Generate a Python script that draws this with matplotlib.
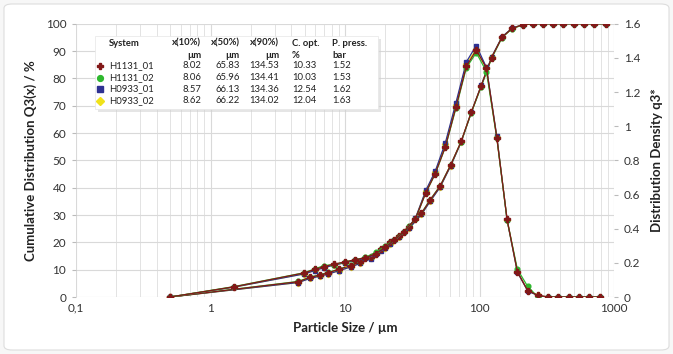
import matplotlib.pyplot as plt
from matplotlib.lines import Line2D
from matplotlib.patches import FancyBboxPatch, Rectangle
from matplotlib.ticker import FixedLocator, FuncFormatter, LogLocator, NullFormatter

plt.rcParams['font.family'] = ['Lato', 'DejaVu Sans']

# particle size classes (upper edges) for Q3, class means for q3*
size_edges = [0.5, 4.5, 5.5, 6.5, 7.5, 9.0, 11.0, 13.0, 15.5, 18.5, 21.5, 25.0, 30.0, 37.0,
              43.0, 51.0, 61.0, 73.0, 87.0, 103.0, 123.0, 147.0, 175.0, 209.0, 249.0, 297.0,
              353.0, 421.0, 501.0, 597.0, 711.0, 875.0]
size_means = [0.5, 1.5, 4.97, 5.98, 6.98, 8.22, 9.95, 11.96, 14.2, 16.93, 19.94, 23.18, 27.39,
              33.32, 39.89, 46.83, 55.78, 66.73, 79.81, 94.66, 112.6, 134.5, 160.4, 191.3,
              228.1, 271.9, 323.8, 385.5, 459.3, 547.0, 651.5, 788.8]

# cumulative distribution Q3 in %
q3cum_h1131_01 = [0, 5.6, 7.2, 8.0, 8.9, 10.1, 11.5, 12.8, 14.5, 17.6, 20.0, 22.4, 25.7, 30.6,
                  35.5, 40.6, 48.3, 56.9, 67.7, 77.3, 87.6, 95.0, 98.3, 99.6, 100, 100, 100,
                  100, 100, 100, 100, 100]
q3cum_h1131_02 = [0, 5.7, 7.3, 8.1, 9.0, 10.2, 11.6, 12.9, 14.6, 17.7, 20.1, 22.5, 25.8, 30.7,
                  35.6, 40.7, 48.3, 56.8, 67.5, 77.0, 87.3, 94.9, 98.2, 99.5, 100, 100, 100,
                  100, 100, 100, 100, 100]
q3cum_h0933_01 = [0, 5.3, 6.8, 7.6, 8.4, 9.6, 11.0, 12.3, 14.0, 17.0, 19.4, 21.8, 25.1, 30.2,
                  35.0, 40.2, 47.9, 56.6, 67.6, 77.4, 87.8, 95.2, 98.4, 99.6, 100, 100, 100,
                  100, 100, 100, 100, 100]
q3cum_h0933_02 = [0, 5.3, 6.9, 7.7, 8.5, 9.6, 11.0, 12.4, 14.1, 17.1, 19.5, 21.9, 25.2, 30.2,
                  35.1, 40.3, 48.0, 56.7, 67.6, 77.3, 87.7, 95.1, 98.4, 99.6, 100, 100, 100,
                  100, 100, 100, 100, 100]

# distribution density q3*
q3dens_h1131_01 = [0, 0.060, 0.141, 0.162, 0.178, 0.192, 0.205, 0.219, 0.230, 0.254, 0.291,
                   0.334, 0.381, 0.456, 0.611, 0.722, 0.880, 1.110, 1.350, 1.446, 1.340, 0.933,
                   0.454, 0.149, 0.038, 0.010, 0, 0, 0, 0, 0, 0]
q3dens_h1131_02 = [0, 0.061, 0.142, 0.165, 0.184, 0.190, 0.204, 0.218, 0.232, 0.262, 0.298,
                   0.335, 0.382, 0.455, 0.610, 0.720, 0.878, 1.104, 1.342, 1.430, 1.320, 0.930,
                   0.450, 0.162, 0.062, 0.0, 0, 0, 0, 0, 0, 0]
q3dens_h0933_01 = [0, 0.058, 0.135, 0.155, 0.172, 0.186, 0.200, 0.214, 0.226, 0.250, 0.288,
                   0.332, 0.380, 0.460, 0.624, 0.736, 0.904, 1.136, 1.376, 1.472, 1.344, 0.940,
                   0.450, 0.145, 0.036, 0.008, 0, 0, 0, 0, 0, 0]
q3dens_h0933_02 = [0, 0.058, 0.136, 0.156, 0.173, 0.187, 0.201, 0.215, 0.227, 0.251, 0.289,
                   0.333, 0.380, 0.458, 0.618, 0.730, 0.895, 1.125, 1.365, 1.450, 1.338, 0.935,
                   0.452, 0.146, 0.037, 0.009, 0, 0, 0, 0, 0, 0]

systems = ['H1131_01', 'H1131_02', 'H0933_01', 'H0933_02']
x10 = ['8.02', '8.06', '8.57', '8.62']
x50 = ['65.83', '65.96', '66.13', '66.22']
x90 = ['134.53', '134.41', '134.36', '134.02']
c_opt = ['10.33', '10.03', '12.54', '12.04']
p_press = ['1.52', '1.53', '1.62', '1.63']

cum_data = [q3cum_h1131_01, q3cum_h1131_02, q3cum_h0933_01, q3cum_h0933_02]
dens_data = [q3dens_h1131_01, q3dens_h1131_02, q3dens_h0933_01, q3dens_h0933_02]
colors = ['#821818', '#2eb82e', '#2e3192', '#f0e21a']
markers = ['P', 'o', 's', 'D']
msizes = [4, 3.4, 3.2, 3.2]

W, H = 673, 354


def px(x, y):
    return x / W, 1 - y / H


fig = plt.figure(figsize=(W / 100, H / 100), dpi=100, facecolor='#f7f7f7')
fig.patches.append(FancyBboxPatch(px(4, 350), (W - 8) / W, 346 / H,
                                  boxstyle='round,pad=0,rounding_size=0.012',
                                  transform=fig.transFigure, facecolor='white',
                                  edgecolor='#dddddd', lw=0.8, zorder=-5))

x0, y0 = px(76, 297)
x1, y1 = px(614, 23.7)
ax = fig.add_axes([x0, y0, x1 - x0, y1 - y0])
ax.set_facecolor('white')
ax2 = ax.twinx()

# draw order: yellow, blue, green, red on top
for i in [3, 2, 1, 0]:
    ax.plot(size_edges, cum_data[i], color=colors[i], lw=0.9, marker=markers[i],
            ms=msizes[i], mec=colors[i], mfc=colors[i], zorder=3 + (3 - i))
    ax2.plot(size_means, dens_data[i], color=colors[i], lw=0.9, marker=markers[i],
             ms=msizes[i], mec=colors[i], mfc=colors[i], zorder=3 + (3 - i))

ax.set_xscale('log')
ax.set_xlim(0.1, 1000)
ax.set_ylim(0, 100)
ax2.set_ylim(0, 1.6)

ax.xaxis.set_major_locator(FixedLocator([0.1, 1, 10, 100, 1000]))
ax.xaxis.set_major_formatter(FuncFormatter(lambda v, p: '0,1' if v < 0.5 else '%d' % v))
ax.xaxis.set_minor_locator(LogLocator(base=10, subs=range(2, 10)))
ax.xaxis.set_minor_formatter(NullFormatter())
ax.set_yticks(range(0, 101, 10))
ax2.set_yticks([0, 0.2, 0.4, 0.6, 0.8, 1.0, 1.2, 1.4, 1.6])
ax2.yaxis.set_major_formatter(FuncFormatter(lambda v, p: '%g' % round(v, 1)))

ax.grid(True, which='major', color='#d9d9d9', lw=0.8)
ax.grid(True, which='minor', axis='x', color='#e3e3e3', lw=0.7)
for a in (ax, ax2):
    for s in a.spines.values():
        s.set_visible(False)
ax.tick_params(axis='both', which='both', length=0, labelsize=8.5, colors='#333333', pad=4)
ax.tick_params(axis='y', length=3, color='#bbbbbb')
ax2.tick_params(axis='y', length=3, color='#bbbbbb', labelsize=8.5, labelcolor='#333333', pad=4)

ax.set_xlabel('Particle Size / µm', fontsize=9.5, fontweight='bold', color='#222222', labelpad=6)
ax.set_ylabel('Cumulative Distribution Q3(x) / %', fontsize=9.5, fontweight='bold', color='#222222',
              labelpad=6)
ax2.set_ylabel('Distribution Density q3*', fontsize=9.5, fontweight='bold', color='#222222',
               labelpad=8)

# legend table
shadow = Rectangle(px(98, 112), 283 / W, 73 / H, transform=fig.transFigure,
                   facecolor='#d0d0d0', edgecolor='none', alpha=0.55, zorder=8)
box = Rectangle(px(95, 109), 283 / W, 73 / H, transform=fig.transFigure,
                facecolor='white', edgecolor='#e6e6e6', lw=0.5, zorder=9)
fig.add_artist(shadow)
fig.add_artist(box)

fs = 6.8
tc = '#222222'
fig.text(*px(109, 43), 'System', fontsize=fs, fontweight='bold', color=tc, va='center', zorder=10)
for xr, head in [(201, 'x(10%)'), (240, 'x(50%)'), (279, 'x(90%)')]:
    fig.text(*px(xr, 43), head, fontsize=fs, fontweight='bold', color=tc, ha='right', va='center', zorder=10)
    fig.text(*px(xr, 55), 'µm', fontsize=fs, fontweight='bold', color=tc, ha='right', va='center', zorder=10)
fig.text(*px(292, 43), 'C. opt.', fontsize=fs, fontweight='bold', color=tc, va='center', zorder=10)
fig.text(*px(292, 55), '%', fontsize=fs, fontweight='bold', color=tc, va='center', zorder=10)
fig.text(*px(332, 43), 'P. press.', fontsize=fs, fontweight='bold', color=tc, va='center', zorder=10)
fig.text(*px(332, 55), 'bar', fontsize=fs, fontweight='bold', color=tc, va='center', zorder=10)

row_y = [66, 77.5, 89, 100.5]
for i, ry in enumerate(row_y):
    mx, my = px(100, ry)
    fig.add_artist(Line2D([mx], [my], marker=markers[i], ms=msizes[i] + 0.8, color=colors[i],
                          mec=colors[i], transform=fig.transFigure, zorder=10))
    fig.text(*px(109, ry), systems[i], fontsize=fs, color=tc, va='center', zorder=10)
    fig.text(*px(201, ry), x10[i], fontsize=fs, color=tc, ha='right', va='center', zorder=10)
    fig.text(*px(240, ry), x50[i], fontsize=fs, color=tc, ha='right', va='center', zorder=10)
    fig.text(*px(279, ry), x90[i], fontsize=fs, color=tc, ha='right', va='center', zorder=10)
    fig.text(*px(292, ry), c_opt[i], fontsize=fs, color=tc, va='center', zorder=10)
    fig.text(*px(332, ry), p_press[i], fontsize=fs, color=tc, va='center', zorder=10)

fig.savefig('out.png', dpi=100, facecolor=fig.get_facecolor())
